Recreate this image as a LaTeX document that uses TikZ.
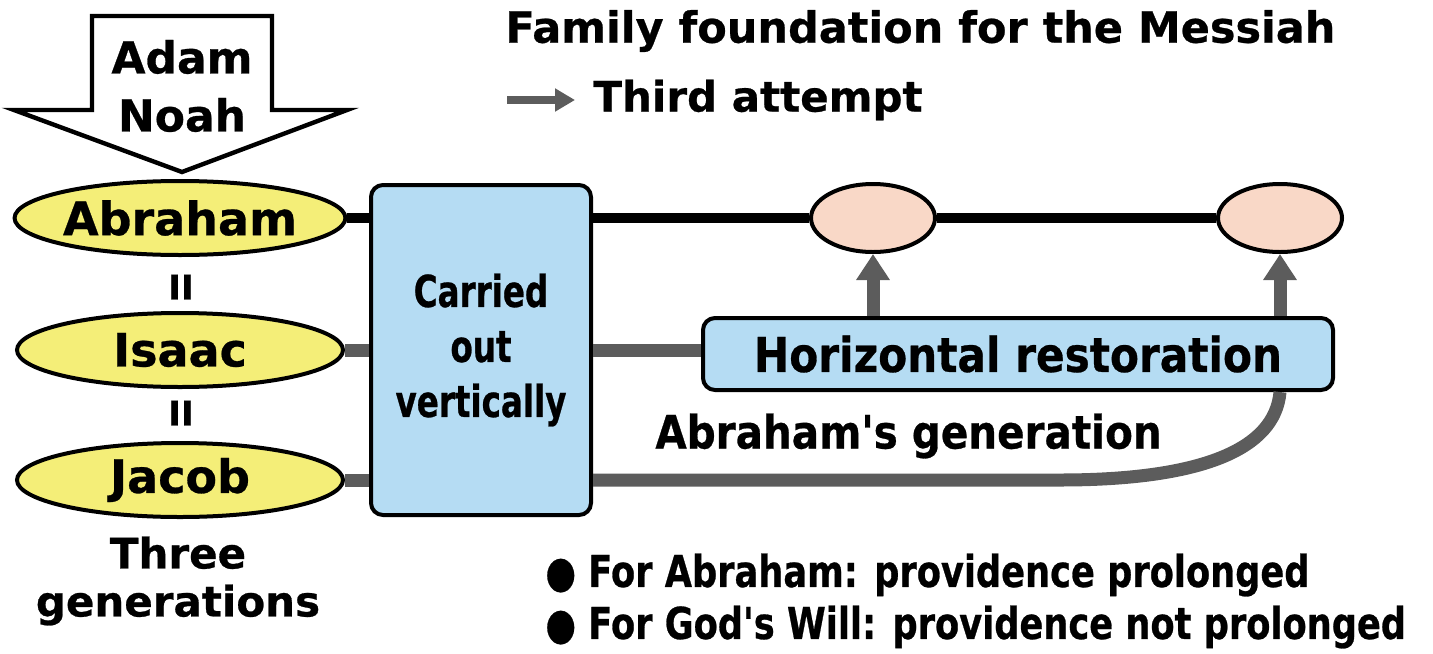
\documentclass[tikz,border=0pt]{standalone}
\usepackage{fontspec}
\setmainfont{DejaVu Sans}[BoldFeatures={FakeBold=0.6}]
\newfontfamily\narrowfam{DejaVu Sans}[FakeStretch=0.74, BoldFeatures={FakeBold=0.6}]
\newfontfamily\notefam{DejaVu Sans}[FakeStretch=0.8, BoldFeatures={FakeBold=0.6}]
\newfontfamily\midfam{DejaVu Sans}[FakeStretch=0.88, BoldFeatures={FakeBold=0.6}]
\usepackage{tikz}
\usetikzlibrary{arrows.meta, positioning, shapes.geometric}
\definecolor{genyellow}{HTML}{F4EE78}
\definecolor{goalpeach}{HTML}{F9D8C7}
\definecolor{boxblue}{HTML}{B5DCF3}
\definecolor{linegray}{HTML}{5C5C5C}

\begin{document}
\begin{tikzpicture}[x=0.5pt, y=-0.5pt, >={Triangle[width=16pt,length=13pt]},
  font=\bfseries,
  gen/.style={ellipse, draw, line width=2pt, fill=genyellow, minimum width=163pt, minimum height=37pt, inner sep=0pt, font=\bfseries\fontsize{23}{26}\selectfont},
  goal/.style={ellipse, draw, line width=2pt, fill=goalpeach, minimum width=62pt, minimum height=34pt},
  bluebox/.style={draw, line width=2pt, rounded corners=6pt, fill=boxblue, inner sep=0pt, align=center},
  lbl/.style={inner sep=0pt, align=center},
  blackline/.style={line width=5pt},
  grayline/.style={line width=6.5pt, draw=linegray},
  grayarrow/.style={line width=6.5pt, draw=linegray, fill=linegray, ->}]
\useasboundingbox (0,0) rectangle (1433,653);

% down arrow with the forerunners
\draw[line width=2.2pt, fill=white, line join=miter] (92,16) -- (272,16) -- (272,110) -- (347,110)
  -- (182,172) -- (14,110) -- (92,110) -- cycle;
\node[lbl, font=\bfseries\fontsize{22}{29}\selectfont] (adam) at (182,86) {Adam\\Noah};

% three generations
\node[gen] (abraham) at (180,218) {Abraham};
\node[gen] (isaac) at (180,350) {Isaac};
\node[gen] (jacob) at (180,480) {Jacob};
\node[lbl, font=\bfseries\fontsize{17}{20}\selectfont] (eq1) at (181,287) {II};
\node[lbl, font=\bfseries\fontsize{17}{20}\selectfont] (eq2) at (181,413) {II};
\node[lbl, font=\bfseries\fontsize{21}{24}\selectfont] (three) at (178,581) {Three\\generations};

\node[bluebox, minimum width=110pt, minimum height=165pt,
  font=\narrowfam\bfseries\fontsize{22}{27.5}\selectfont] (vert) at (481,350) {Carried\\out\\vertically};

% goals
\node[goal] (goal1) at (873,218) {};
\node[goal] (goal2) at (1280,218) {};
\node[bluebox, minimum width=315pt, minimum height=36pt,
  font=\midfam\bfseries\fontsize{24}{28}\selectfont] (horiz) at (1018,354) {Horizontal restoration};

\draw[blackline] (abraham.east) -- (abraham -| vert.west);
\draw[grayline] (isaac.east) -- (isaac -| vert.west);
\draw[grayline] (jacob.east) -- (jacob -| vert.west);

\draw[blackline] (abraham -| vert.east) -- (goal1.west);
\draw[blackline] (goal1.east) -- (goal2.west);
\draw[grayline] (isaac -| vert.east) -- (isaac -| horiz.west);
\draw[grayarrow] (horiz.north -| goal1) -- (goal1.south);
\draw[grayarrow] (horiz.north -| goal2) -- (goal2.south);
\coordinate (bend) at (1060,480);
\draw[grayline] (jacob -| vert.east) -- (bend) .. controls (1200,480) and (1275,450) .. (horiz.south -| goal2);

\node[lbl, anchor=west, font=\midfam\bfseries\fontsize{23}{27}\selectfont] (gener) at (655,436) {Abraham's generation};

% heading
\node[lbl, anchor=west, font=\bfseries\fontsize{21.5}{25}\selectfont] (title) at (505,31) {Family foundation for the Messiah};
\node[lbl, anchor=west, font=\bfseries\fontsize{21}{25}\selectfont] (third) at (593,100) {Third attempt};
\coordinate (tstart) at (507,100);
\draw[line width=4pt, draw=linegray, -{Triangle[width=11pt,length=10pt]}] (tstart) -- ([xshift=-9]third.west);

% notes
\node[lbl, anchor=west, font=\notefam\bfseries\fontsize{22}{26}\selectfont] (note1) at (545,575) {● For Abraham: providence prolonged};
\node[lbl, anchor=west, font=\notefam\bfseries\fontsize{22}{26}\selectfont] (note2) at (545,627) {● For God's Will: providence not prolonged};
\end{tikzpicture}
\end{document}
